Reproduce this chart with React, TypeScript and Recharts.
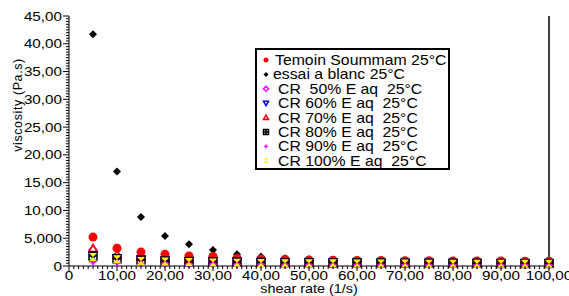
import React from "react";
import {
  ScatterChart,
  Scatter,
  XAxis,
  YAxis,
  Label,
} from "recharts";

const shearRate = [5, 10, 15, 20, 25, 30, 35, 40, 45, 50, 55, 60, 65, 70, 75, 80, 85, 90, 95, 100];
const temoin = [5.2, 3.2, 2.5, 2.1, 1.8, 1.7, 1.4, 1.25, 1.2, 1.1, 1.05, 1.0, 1.0, 0.95, 0.95, 0.9, 0.9, 0.9, 0.85, 0.85];
const blanc = [41.7, 17.0, 8.8, 5.4, 3.9, 2.9, 2.1, 1.7, 1.4, 1.2, 1.05, 0.95, 0.85, 0.8, 0.75, 0.72, 0.7, 0.68, 0.66, 0.65];
const cr50 = [2.9, 1.9, 1.4, 1.2, 1.0, 0.9, 0.85, 0.8, 0.75, 0.7, 0.7, 0.65, 0.65, 0.6, 0.6, 0.6, 0.55, 0.55, 0.55, 0.5];
const cr60 = [1.9, 1.4, 1.2, 1.0, 0.9, 0.85, 0.8, 0.75, 0.7, 0.7, 0.65, 0.65, 0.6, 0.6, 0.6, 0.55, 0.55, 0.55, 0.5, 0.5];
const cr70 = [3.2, 2.0, 1.6, 1.3, 1.1, 1.0, 0.9, 0.85, 0.8, 0.75, 0.7, 0.7, 0.65, 0.65, 0.6, 0.6, 0.6, 0.55, 0.55, 0.55];
const cr80 = [1.8, 1.3, 1.1, 0.9, 0.8, 0.75, 0.7, 0.65, 0.6, 0.6, 0.55, 0.55, 0.55, 0.5, 0.5, 0.5, 0.5, 0.45, 0.45, 0.45];
const cr90 = [0.8, 0.6, 0.4, 0.35, 0.3, 0.3, 0.25, 0.25, 0.2, 0.2, 0.2, 0.2, 0.2, 0.15, 0.15, 0.15, 0.15, 0.15, 0.15, 0.15];
const cr100 = [1.6, 1.2, 0.9, 0.8, 0.7, 0.65, 0.6, 0.55, 0.5, 0.5, 0.5, 0.45, 0.45, 0.45, 0.4, 0.4, 0.4, 0.4, 0.4, 0.4];

const xTickLabels = ["0", "10,00", "20,00", "30,00", "40,00", "50,00", "60,00", "70,00", "80,00", "90,00", "100,00"];
const yTickLabels = ["0", "5,000", "10,00", "15,00", "20,00", "25,00", "30,00", "35,00", "40,00", "45,00"];

const xTicks = Array.from({ length: 101 }, (_, i) => i);
const yTicks = Array.from({ length: 91 }, (_, i) => i * 0.5);

const FONT = "'Liberation Sans', Arial, sans-serif";

type Kind = "circle" | "diamond" | "diamondOpen" | "triDown" | "triUp" | "squareCross" | "star" | "bowtie";

function Marker({ kind, cx, cy, s, color }: { kind: Kind; cx: number; cy: number; s: number; color: string }) {
  const h = s / 2;
  switch (kind) {
    case "circle":
      return <circle cx={cx} cy={cy} r={h} fill={color} />;
    case "diamond":
      return <polygon points={`${cx},${cy - h} ${cx + h},${cy} ${cx},${cy + h} ${cx - h},${cy}`} fill={color} />;
    case "diamondOpen":
      return (
        <polygon
          points={`${cx},${cy - h} ${cx + h},${cy} ${cx},${cy + h} ${cx - h},${cy}`}
          fill="none"
          stroke={color}
          strokeWidth={1.5}
        />
      );
    case "triDown":
      return (
        <polygon
          points={`${cx - h},${cy - h * 0.8} ${cx + h},${cy - h * 0.8} ${cx},${cy + h}`}
          fill="none"
          stroke={color}
          strokeWidth={1.5}
        />
      );
    case "triUp":
      return (
        <polygon
          points={`${cx - h},${cy + h * 0.8} ${cx + h},${cy + h * 0.8} ${cx},${cy - h}`}
          fill="none"
          stroke={color}
          strokeWidth={1.5}
        />
      );
    case "squareCross":
      return (
        <g stroke={color} strokeWidth={1.5} fill="none">
          <rect x={cx - h} y={cy - h} width={s} height={s} />
          <line x1={cx - h} x2={cx + h} y1={cy} y2={cy} />
          <line x1={cx} x2={cx} y1={cy - h} y2={cy + h} />
        </g>
      );
    case "star":
      return (
        <polygon
          points={`${cx},${cy - h} ${cx + h * 0.35},${cy - h * 0.35} ${cx + h},${cy} ${cx + h * 0.35},${cy + h * 0.35} ${cx},${cy + h} ${cx - h * 0.35},${cy + h * 0.35} ${cx - h},${cy} ${cx - h * 0.35},${cy - h * 0.35}`}
          fill={color}
        />
      );
    case "bowtie":
      return (
        <path
          d={`M${cx - h},${cy - h} H${cx + h} L${cx - h},${cy + h} H${cx + h} Z`}
          fill={color}
        />
      );
  }
  return null;
}

const shapeOf = (kind: Kind, s: number, color: string) => (p: any) =>
  <Marker kind={kind} cx={p.cx} cy={p.cy} s={s} color={color} />;

const series = [
  { name: "essai a blanc 25°C", values: blanc, kind: "diamond" as Kind, color: "#000000", size: 8 },
  { name: "Temoin Soummam 25°C", values: temoin, kind: "circle" as Kind, color: "#ff0000", size: 9 },
  { name: "CR  50% E aq  25°C", values: cr50, kind: "diamondOpen" as Kind, color: "#ff00ff", size: 8 },
  { name: "CR 60% E aq  25°C", values: cr60, kind: "triDown" as Kind, color: "#0000ff", size: 8 },
  { name: "CR 70% E aq  25°C", values: cr70, kind: "triUp" as Kind, color: "#ff0000", size: 8 },
  { name: "CR 80% E aq  25°C", values: cr80, kind: "squareCross" as Kind, color: "#000000", size: 8 },
  { name: "CR 90% E aq  25°C", values: cr90, kind: "star" as Kind, color: "#ff00ff", size: 9 },
  { name: "CR 100% E aq  25°C", values: cr100, kind: "bowtie" as Kind, color: "#ffff00", size: 8 },
];

const legendOrder = [1, 0, 2, 3, 4, 5, 6, 7];

const XTick = (props: any) => {
  const { x, y, payload } = props;
  const v = payload.value as number;
  const major = v % 10 === 0;
  return (
    <g>
      <line x1={x} x2={x} y1={y} y2={y + (major ? 5 : 3)} stroke="#000" />
      {major && (
        <text
          transform={`translate(${x},${y + 14}) scale(1.27,1)`}
          textAnchor="middle"
          fontSize={12}
          fontFamily={FONT}
          fill="#000"
        >
          {xTickLabels[v / 10]}
        </text>
      )}
    </g>
  );
};

const YTick = (props: any) => {
  const { x, y, payload } = props;
  const v = payload.value as number;
  const major = v % 5 === 0;
  return (
    <g>
      <line x1={x} x2={x - (major ? 6 : 3)} y1={y} y2={y} stroke="#000" />
      {major && (
        <text
          transform={`translate(${x - 7},${y + 4.5}) scale(1.27,1)`}
          textAnchor="end"
          fontSize={12}
          fontFamily={FONT}
          fill="#000"
        >
          {yTickLabels[v / 5]}
        </text>
      )}
    </g>
  );
};

function LegendBox() {
  const left = 256;
  const top = 49;
  const rowH = 14.4;
  return (
    <svg
      width={569}
      height={296}
      style={{ position: "absolute", left: 0, top: 0, pointerEvents: "none" }}
    >
      <rect x={left} y={top} width={193} height={120} fill="#fff" stroke="#000" strokeWidth={2} />
      {legendOrder.map((si, i) => {
        const s = series[si];
        const yc = top + 11 + i * rowH;
        const tx = i === 0 ? left + 19 : i === 1 ? left + 17 : left + 22;
        return (
          <g key={s.name}>
            <Marker kind={s.kind} cx={left + 10} cy={yc} s={5} color={s.color} />
            <text
              transform={`translate(${tx},${yc + 5}) scale(1.13,1)`}
              fontSize={14}
              fontFamily={FONT}
              fill="#000"
              style={{ whiteSpace: "pre" }}
            >
              {s.name}
            </text>
          </g>
        );
      })}
    </svg>
  );
}

export default function App() {
  return (
    <div style={{ position: "absolute", left: 0, top: 0, width: 569, height: 296, background: "#fff" }}>
      <ScatterChart width={569} height={296} margin={{ top: 16, right: 0, bottom: 0, left: 0 }}>
        <XAxis
          type="number"
          dataKey="x"
          domain={[0, 100]}
          ticks={xTicks}
          interval={0}
          tickSize={0}
          tickMargin={0}
          tickLine={false}
          tick={<XTick />}
          height={30}
          axisLine={{ stroke: "#000" }}
        >
          <Label
            content={(p: any) => {
              const vb = p.viewBox;
              return (
                <text
                  transform={`translate(${vb.x + vb.width / 2},${vb.y + 26.5}) scale(1.2,1)`}
                  textAnchor="middle"
                  fontSize={12}
                  fontFamily={FONT}
                  fill="#000"
                >
                  shear rate (1/s)
                </text>
              );
            }}
          />
        </XAxis>
        <YAxis
          type="number"
          dataKey="y"
          domain={[0, 45]}
          ticks={yTicks}
          interval={0}
          tickSize={0}
          tickMargin={0}
          tickLine={false}
          tick={<YTick />}
          width={69}
          axisLine={{ stroke: "#000" }}
        >
          <Label
            content={(p: any) => {
              const vb = p.viewBox;
              const cx = vb.x + 22;
              const cy = vb.y + 89;
              return (
                <text
                  transform={`translate(${cx},${cy}) rotate(-90)`}
                  textAnchor="middle"
                  fontSize={12.5}
                  fontFamily={FONT}
                  letterSpacing={0.6}
                  fill="#000"
                >
                  viscosity (Pa.s)
                </text>
              );
            }}
          />
        </YAxis>
        <YAxis
          yAxisId="right"
          orientation="right"
          type="number"
          domain={[0, 45]}
          tick={false}
          tickLine={false}
          width={20}
          axisLine={{ stroke: "#000", strokeWidth: 1.5 }}
        />
        {series.map((s) => (
          <Scatter
            key={s.name}
            name={s.name}
            data={shearRate.map((x, i) => ({ x, y: s.values[i] }))}
            shape={shapeOf(s.kind, s.size, s.color)}
            isAnimationActive={false}
          />
        ))}
      </ScatterChart>
      <LegendBox />
    </div>
  );
}
